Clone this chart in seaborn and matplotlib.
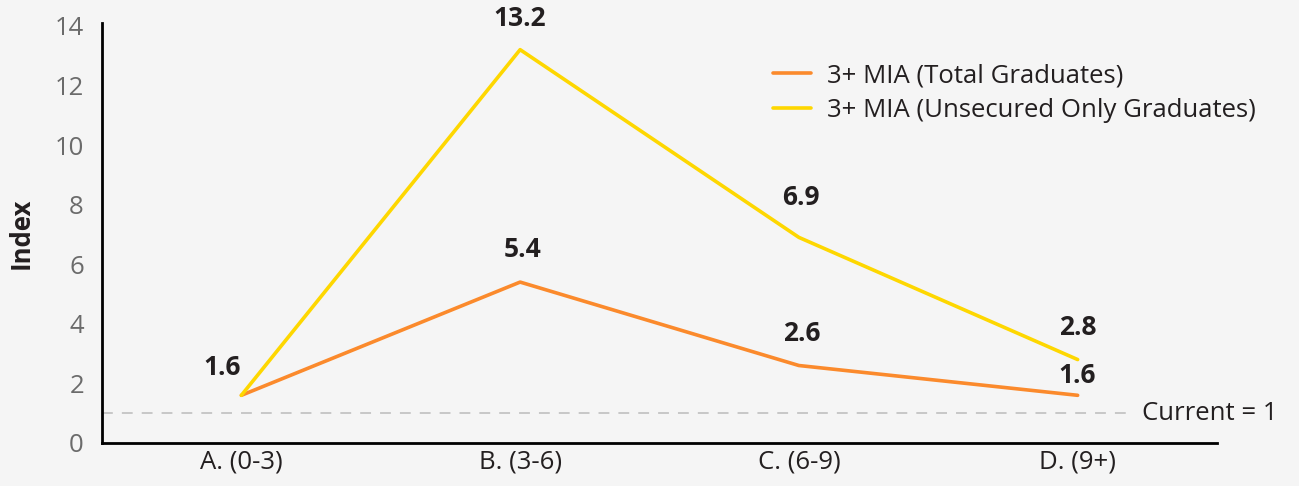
import matplotlib
matplotlib.use("Agg")
import matplotlib.pyplot as plt
import seaborn as sns
import pandas as pd

categories = ["A. (0-3)", "B. (3-6)", "C. (6-9)", "D. (9+)"]
total_grads = [1.6, 5.4, 2.6, 1.6]
unsecured_grads = [1.6, 13.2, 6.9, 2.8]
series_names = ["3+ MIA (Total Graduates)", "3+ MIA (Unsecured Only Graduates)"]
y_ticks = [0, 2, 4, 6, 8, 10, 12, 14]
current_level = 1

BG = "#f5f5f5"
ORANGE = "#fb8a2c"
YELLOW = "#fed700"
DARK = "#231f20"
GREY = "#6b6b6b"
FS = 18.5

sns.set_theme(style="white")
plt.rcParams["font.family"] = ["Open Sans", "DejaVu Sans"]

df = pd.DataFrame({
    "cat": categories * 2,
    "x": list(range(len(categories))) * 2,
    "value": total_grads + unsecured_grads,
    "series": [series_names[0]] * 4 + [series_names[1]] * 4,
})

fig = plt.figure(figsize=(12.99, 4.86), dpi=100, facecolor=BG)
ax = fig.add_axes([0.0785, 0.0885, 0.8584, 0.8645])
ax.set_facecolor(BG)

sns.lineplot(data=df, x="x", y="value", hue="series", palette=[ORANGE, YELLOW],
             linewidth=2.6, ax=ax, sort=False)

# reference level
ax.plot([-0.5, 3.18], [current_level, current_level], color="#c4c4c4",
        linewidth=1.3, dashes=(6, 5), zorder=1)
ax.annotate(f"Current = {current_level}", xy=(3.18, current_level), xytext=(14, 0),
            textcoords="offset pixels", va="center", ha="left", fontsize=FS,
            color=DARK, annotation_clip=False)

# value labels
label_offsets_total = [(-19, 28), (2, 33), (3, 32), (0, 20)]
label_offsets_unsec = [None, (0, 31), (2, 40), (0, 32)]
for i, v in enumerate(total_grads):
    dx, dy = label_offsets_total[i]
    ax.annotate(f"{v}", xy=(i, v), xytext=(dx, dy), textcoords="offset pixels",
                ha="center", va="center", fontsize=FS + 0.5, fontweight="bold", color=DARK)
for i, v in enumerate(unsecured_grads):
    if label_offsets_unsec[i] is None:
        continue
    dx, dy = label_offsets_unsec[i]
    ax.annotate(f"{v}", xy=(i, v), xytext=(dx, dy), textcoords="offset pixels",
                ha="center", va="center", fontsize=FS + 0.5, fontweight="bold", color=DARK,
                annotation_clip=False)

ax.set_xlim(-0.5, 3.5)
ax.set_ylim(0, 14.1)
ax.set_xticks(range(len(categories)))
ax.set_xticklabels(categories)
ax.set_yticks(y_ticks)
ax.tick_params(axis="x", labelsize=FS, labelcolor=DARK, length=0, pad=5)
ax.tick_params(axis="y", labelsize=FS, labelcolor=GREY, length=0, pad=13)
ax.set_xlabel("")
ax.set_ylabel("Index", fontsize=FS, fontweight="bold", color=DARK, labelpad=14)

for side in ["top", "right"]:
    ax.spines[side].set_visible(False)
for side in ["left", "bottom"]:
    ax.spines[side].set_color("black")
    ax.spines[side].set_linewidth(2)

leg = ax.legend(frameon=False, loc="upper left", bbox_to_anchor=(0.595, 0.87),
                bbox_transform=fig.transFigure, borderaxespad=0, borderpad=0,
                handlelength=1.5, handletextpad=0.6, labelspacing=0.4, fontsize=FS)
for t in leg.get_texts():
    t.set_color(DARK)

fig.savefig("out.png", dpi=100, facecolor=BG)
